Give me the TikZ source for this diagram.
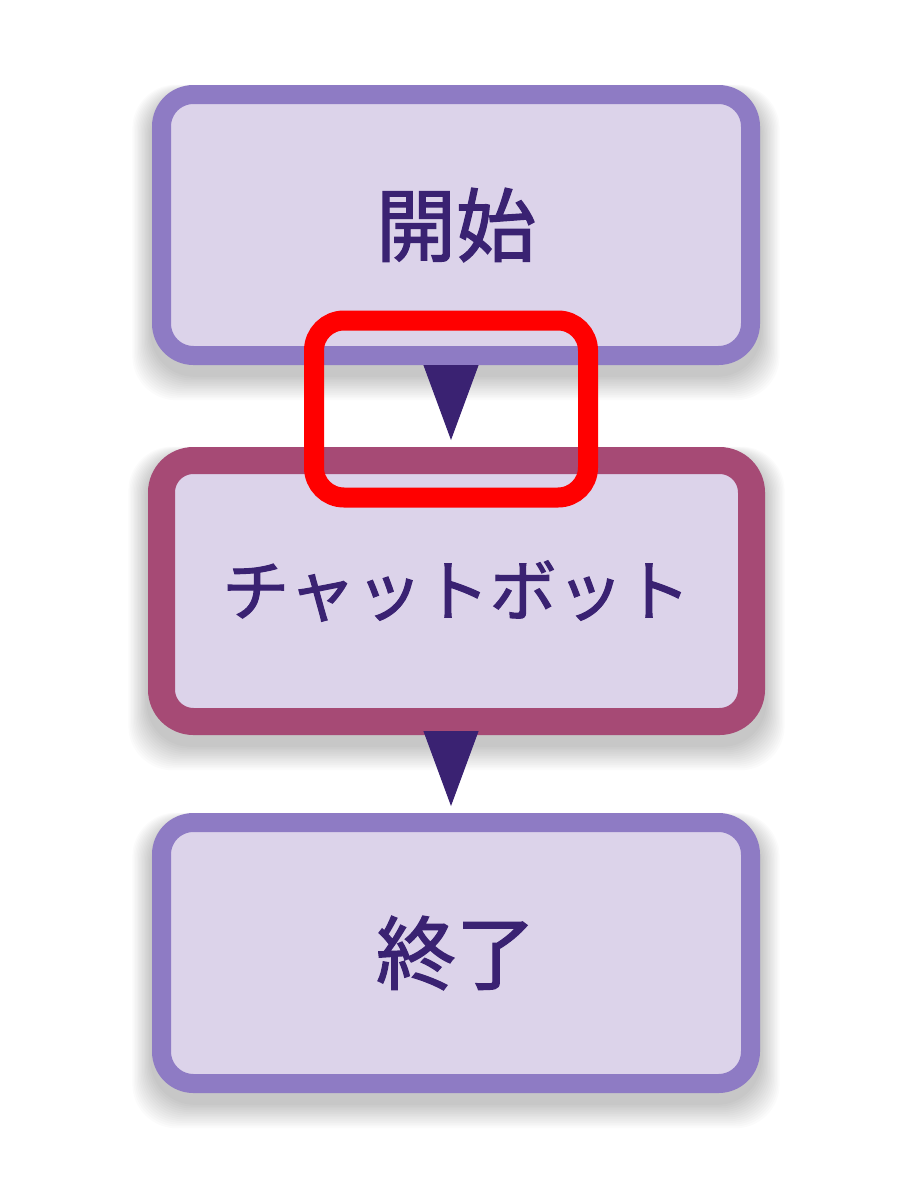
\documentclass[tikz,border=0pt]{standalone}
\usepackage{fontspec}
\newfontfamily\cjk[FakeBold=1.6]{Noto Sans CJK JP}
\usetikzlibrary{arrows.meta}
\pgfdeclarelayer{bg}
\pgfsetlayers{bg,main}
\definecolor{boxfill}{HTML}{DCD3EA}
\definecolor{lavborder}{HTML}{8E7BC4}
\definecolor{plumborder}{HTML}{A64A75}
\definecolor{inktext}{HTML}{3A2272}
\definecolor{hlred}{HTML}{FF0000}
\tikzset{
  flowbox/.style={rectangle, rounded corners=32pt, fill=boxfill, draw=lavborder,
    line width=19pt, minimum width=589pt, minimum height=261pt, inner sep=0pt,
    text=inktext, font=\cjk\fontsize{80pt}{80pt}\selectfont},
  activebox/.style={flowbox, draw=plumborder, line width=27pt, minimum width=590pt,
    font=\cjk\fontsize{67pt}{67pt}\selectfont},
  flowarrow/.style={-{Triangle[length=75pt,width=55pt]}, draw=inktext, fill=inktext,
    line width=1pt, shorten >=7pt},
  highlight/.style={rectangle, rounded corners=30pt, draw=hlred, line width=20pt,
    minimum width=274pt, minimum height=177pt, inner sep=0pt},
  softshade/.style={fill=black, fill opacity=0.017, rounded corners=44pt}
}
\begin{document}
\begin{tikzpicture}[x=1pt,y=-1pt]
\begin{pgfonlayer}{bg}
\fill[white] (0,0) rectangle (912,1184);
\end{pgfonlayer}
\useasboundingbox (0,0) rectangle (912,1184);
\node[flowbox] (start) at (456,225) {開始};
\node[activebox] (bot) at (456.5,591) {チャットボット};
\node[flowbox] (end) at (456,953) {終了};
\begin{pgfonlayer}{bg}
\foreach \n in {start,bot,end}{
  \foreach \k in {1,...,14}{
    \fill[softshade]
      ([xshift=-\k*1.4pt, yshift=-8pt+\k*0.6pt]\n.north west) rectangle
      ([xshift=\k*1.4pt, yshift=-10pt-\k*1.8pt]\n.south east);
  }
}
\end{pgfonlayer}
\draw[flowarrow] (start.south -| 451,0) -- (bot.north -| 451,0);
\draw[flowarrow] (bot.south -| 451,0) -- (end.north -| 451,0);
\node[highlight] (hl) at (451,409) {};
\end{tikzpicture}
\end{document}
